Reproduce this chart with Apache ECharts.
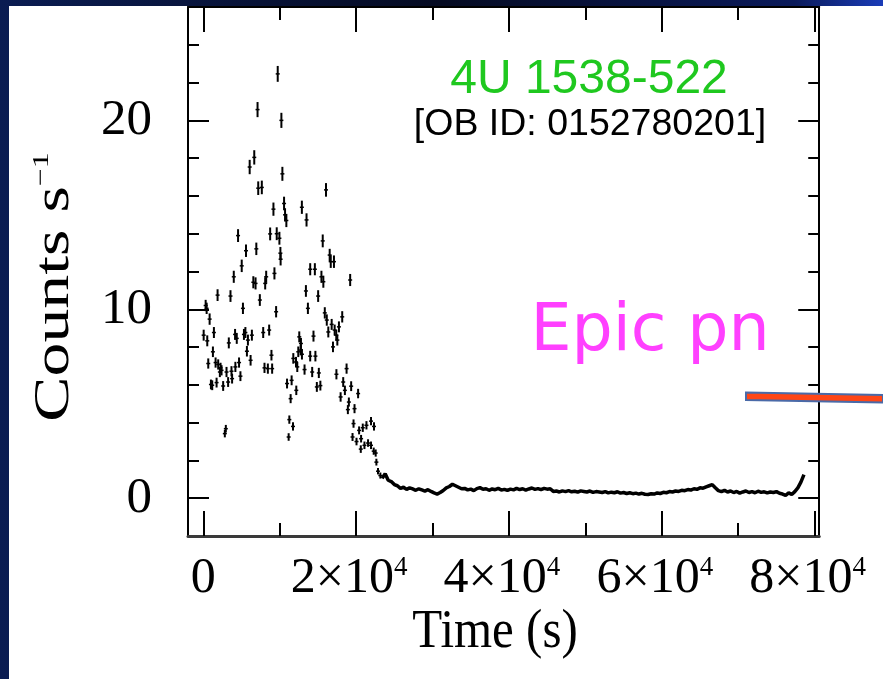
<!DOCTYPE html>
<html><head><meta charset="utf-8">
<script src="https://cdn.jsdelivr.net/npm/echarts@6/dist/echarts.min.js"></script>
<style>html,body{margin:0;padding:0;background:#07112e;}#c{width:883px;height:679px;}</style>
</head><body><div id="c"></div>
<script>
// ---- axis ticks / labels ----
const xMajorTicks = [0, 20000, 40000, 60000, 80000];
const xMinorTicks = [10000, 30000, 50000, 70000];
const xTickLabels = ['0', '2×10{s|4}', '4×10{s|4}', '6×10{s|4}', '8×10{s|4}'];
const yMajorTicks = [0, 10, 20];
const yMinorTicks = [2, 4, 6, 8, 12, 14, 16, 18, 22, 24];
const yTickLabels = ['0', '10', '20'];
const xRange = [-2000, 80600];
const yRange = [-2, 26];

// ---- flare part: [time (s), rate (counts/s), error] ----
const flarePoints = [
 [9740,22.46,0.42],[7100,20.57,0.40],[10220,20.0,0.40],[6670,18.04,0.38],[6070,17.53,0.38],
 [10350,17.17,0.37],[7190,16.41,0.36],[7660,16.45,0.36],[9180,15.3,0.35],[10570,15.6,0.36],
 [10700,15.0,0.35],[10870,14.7,0.35],[4550,13.9,0.34],[8750,13.99,0.34],[9610,14.0,0.34],
 [9960,13.76,0.34],[5590,13.1,0.33],[6940,13.2,0.33],[10090,12.97,0.33],[10120,12.65,0.33],
 [5030,12.3,0.33],[3990,11.72,0.32],[9310,11.9,0.32],[8230,11.72,0.32],[8100,11.37,0.32],
 [6550,11.43,0.32],[6840,11.37,0.32],[1870,10.75,0.31],[3560,10.7,0.31],[7400,10.49,0.31],
 [310,10.2,0.30],[440,10.05,0.30],[5190,10.05,0.30],[9530,9.87,0.30],[830,9.48,0.30],
 [1390,8.77,0.29],[50,8.63,0.29],[520,8.33,0.29],[3340,8.22,0.29],[4160,8.67,0.29],
 [4380,8.46,0.29],[5320,8.67,0.29],[5510,8.77,0.29],[5840,8.37,0.29],[5710,7.78,0.28],
 [6360,8.63,0.29],[7840,8.77,0.29],[8620,8.9,0.29],[1260,7.75,0.28],[6190,7.3,0.28],
 [8920,7.57,0.28],[650,7.13,0.27],[1610,7.18,0.27],[1950,7.08,0.27],[2260,6.9,0.27],
 [2170,6.68,0.27],[2390,6.77,0.27],[3040,6.68,0.27],[3690,6.72,0.27],[4200,6.95,0.27],
 [4680,7.18,0.27],[8010,6.9,0.27],[8450,6.86,0.27],[9010,6.86,0.27],[4860,6.46,0.26],
 [3770,6.33,0.26],[3250,6.15,0.26],[1000,6.02,0.26],[1170,5.98,0.26],[1740,6.12,0.26],
 [2600,5.94,0.26],[2820,3.42,0.20],[2950,3.68,0.20],[10960,6.07,0.26],[11560,6.24,0.26],
 [11430,5.27,0.24],[11260,4.16,0.22],[11740,3.8,0.22],[11170,3.24,0.20],[11780,7.4,0.28],
 [16060,16.32,0.36],[12900,15.4,0.35],[13510,14.73,0.35],[15630,13.62,0.34],[16540,12.87,0.33],
 [16680,12.52,0.33],[17100,12.52,0.33],[13990,12.12,0.32],[14600,12.12,0.32],[15460,11.72,0.32],
 [15710,11.46,0.32],[19220,11.55,0.32],[13430,10.97,0.31],[15030,10.7,0.31],[13690,10.05,0.30],
 [15900,9.81,0.30],[16160,9.43,0.30],[16360,8.8,0.29],[16800,9.2,0.29],[17190,8.9,0.29],
 [17400,8.63,0.29],[17750,9.07,0.29],[18180,9.6,0.30],[12560,8.54,0.29],[14420,8.58,0.29],
 [16970,8.01,0.28],[17540,8.37,0.29],[12780,8.19,0.29],[12430,7.75,0.28],[12740,7.84,0.28],
 [12910,7.62,0.28],[12130,7.21,0.27],[12300,6.95,0.27],[13990,7.52,0.28],[14670,7.52,0.28],
 [13250,6.81,0.27],[14250,6.68,0.27],[15120,6.63,0.27],[14860,5.89,0.26],[15320,5.96,0.26],
 [12170,5.71,0.25],[17420,6.56,0.27],[18750,6.86,0.27],[18310,6.15,0.26],[18530,5.71,0.25],
 [17970,5.36,0.25],[19350,5.93,0.26],[20260,5.54,0.25],[19050,5.09,0.24],[18920,4.69,0.24],
 [19790,4.74,0.24],[19660,3.95,0.22],[19530,3.24,0.21],[20390,3.59,0.21],[20870,3.73,0.22],
 [21350,3.86,0.22],[21950,4.08,0.22],[22340,3.8,0.22],[20050,3.0,0.20],[20650,3.15,0.20],
 [21090,2.8,0.20],[20610,2.6,0.20],[21560,2.92,0.20],[21950,2.8,0.20],[22300,2.49,0.19],
 [22560,2.39,0.19],[22650,1.91,0.18],[22860,1.43,0.17],[23170,1.2,0.16]
];

// ---- quiescent tail: [time (s), rate (counts/s)] ----
const tailPoints = [
 [23400,1.05],[23800,1.30],[24200,0.95],[24600,0.88],[25000,0.72],[25400,0.66],[25800,0.52],
 [26200,0.58],[26600,0.47],[27000,0.55],[27400,0.49],[27800,0.42],[28200,0.50],[28600,0.44],
 [29000,0.38],[29400,0.45],[29800,0.36],[30200,0.28],[30600,0.22],[31000,0.30],[31400,0.41],
 [31800,0.55],[32200,0.62],[32600,0.74],[33000,0.66],[33400,0.58],[33800,0.50],[34200,0.52],
 [34600,0.44],[35000,0.48],[35400,0.40],[35800,0.51],[36200,0.56],[36600,0.47],[37000,0.50],
 [37400,0.42],[37800,0.49],[38200,0.45],[38600,0.52],[39000,0.43],[39400,0.47],[39800,0.41],
 [40200,0.48],[40600,0.44],[41000,0.52],[41400,0.46],[41800,0.50],[42200,0.43],[42600,0.49],
 [43000,0.54],[43400,0.47],[43800,0.51],[44200,0.45],[44600,0.52],[45000,0.48],[45400,0.50],
 [45800,0.36],[46200,0.38],[46600,0.33],[47000,0.39],[47400,0.35],[47800,0.40],[48200,0.34],
 [48600,0.37],[49000,0.32],[49400,0.39],[49800,0.36],[50200,0.33],[50600,0.38],[51000,0.31],
 [51400,0.35],[51800,0.33],[52200,0.30],[52600,0.35],[53000,0.28],[53400,0.32],[53800,0.29],
 [54200,0.34],[54600,0.27],[55000,0.30],[55400,0.25],[55800,0.29],[56200,0.24],[56600,0.27],
 [57000,0.22],[57400,0.26],[57800,0.21],[58200,0.20],[58600,0.24],[59000,0.22],[59400,0.28],
 [59800,0.25],[60200,0.31],[60600,0.29],[61000,0.35],[61400,0.33],[61800,0.38],[62200,0.36],
 [62600,0.42],[63000,0.40],[63400,0.46],[63800,0.43],[64200,0.50],[64600,0.47],[65000,0.55],
 [65400,0.53],[65800,0.60],[66200,0.66],[66600,0.72],[67000,0.55],[67400,0.40],[67800,0.35],
 [68200,0.42],[68600,0.33],[69000,0.38],[69400,0.30],[69800,0.36],[70200,0.27],[70600,0.33],
 [71000,0.38],[71400,0.30],[71800,0.35],[72200,0.29],[72600,0.37],[73000,0.31],[73400,0.34],
 [73800,0.28],[74200,0.33],[74600,0.30],[75000,0.35],[75400,0.26],[75800,0.22],[76200,0.15],
 [76600,0.28],[77000,0.20],[77400,0.35],[77800,0.55],[78200,0.85],[78400,1.05],[78600,1.25]
];

const serif = '"Liberation Serif", "Times New Roman", serif';
const sans = '"Liberation Sans", Arial, sans-serif';

function xAxisDef(pos, major) {
  return {
    type: 'value', position: pos, min: xRange[0], max: xRange[1],
    axisLine: { show: major, onZero: false, lineStyle: pos === 'bottom' ? { color: '#3a3a3a', width: 3 } : { color: '#000', width: 2 } },
    axisTick: { show: true, inside: true, length: major ? 25 : 13, customValues: major ? xMajorTicks : xMinorTicks, lineStyle: { color: '#000', width: 2 } },
    axisLabel: (pos === 'bottom' && major) ? {
      show: true, customValues: xMajorTicks, margin: 18, color: '#000', fontFamily: serif, fontSize: 50, lineHeight: 50,
      formatter: v => xTickLabels[xMajorTicks.indexOf(v)] + (v === 0 ? '' : '{p|}'),
      rich: { s: { fontSize: 27, fontFamily: serif, color: '#000', verticalAlign: 'top', lineHeight: 50 }, p: { width: 14 } }
    } : { show: false },
    splitLine: { show: false }
  };
}
function yAxisDef(pos, major) {
  return {
    type: 'value', position: pos, min: yRange[0], max: yRange[1],
    axisLine: { show: major, onZero: false, lineStyle: { color: '#000', width: 2 } },
    axisTick: { show: true, inside: true, length: major ? 21 : 11, customValues: major ? yMajorTicks : yMinorTicks, lineStyle: { color: '#000', width: 2 } },
    axisLabel: (pos === 'left' && major) ? {
      show: true, customValues: yMajorTicks, margin: 36, color: '#000', fontFamily: serif, fontSize: 51,
      formatter: v => yTickLabels[yMajorTicks.indexOf(v)]
    } : { show: false },
    splitLine: { show: false }
  };
}

const chart = echarts.init(document.getElementById('c'), null, { renderer: 'canvas' });
chart.setOption({
  animation: false,
  backgroundColor: 'transparent',
  grid: { left: 188, top: 7, width: 636, height: 529, containLabel: false },
  xAxis: [xAxisDef('bottom', true), xAxisDef('top', true), xAxisDef('bottom', false), xAxisDef('top', false)],
  yAxis: [yAxisDef('left', true), yAxisDef('right', true), yAxisDef('left', false), yAxisDef('right', false)],
  graphic: [
    { type: 'rect', z: -20, silent: true, shape: { x: 0, y: 0, width: 883, height: 679 },
      style: { fill: new echarts.graphic.LinearGradient(0, 0, 1, 0, [
        { offset: 0, color: '#0a1c52' }, { offset: 0.5, color: '#050b22' }, { offset: 0.9, color: '#0a1a5a' }, { offset: 1, color: '#1a3cb8' }]) } },
    { type: 'rect', z: -19, silent: true, shape: { x: 9, y: 6, width: 874, height: 673 }, style: { fill: '#ffffff' } },
    { type: 'text', z: 10, x: 589, y: 80, style: { text: '4U 1538-522', font: '48px ' + sans, fill: '#1fc81f', textAlign: 'center', textVerticalAlign: 'middle' } },
    { type: 'text', z: 10, x: 590, y: 125, style: { text: '[OB ID: 0152780201]', font: '37.5px ' + sans, fill: '#000', textAlign: 'center', textVerticalAlign: 'middle' } },
    { type: 'text', z: 10, x: 650, y: 333, style: { text: 'Epic pn', font: '65px "Comic Sans MS", "DejaVu Sans", sans-serif', fill: '#ff40ff', textAlign: 'center', textVerticalAlign: 'middle' } },
    { type: 'text', z: 10, x: 495, y: 633, scaleY: 1.12, style: { text: 'Time (s)', font: '49px ' + serif, fill: '#000', textAlign: 'center', textVerticalAlign: 'middle' } },
    { type: 'text', z: 10, x: 55, y: 287, rotation: Math.PI / 2, scaleX: 1.33,
      style: { text: 'Counts s{sup|−1}', font: '51px ' + serif, fill: '#000', textAlign: 'center', textVerticalAlign: 'middle',
        rich: { sup: { fontSize: 24, fontFamily: serif, fill: '#000', verticalAlign: 'top', lineHeight: 50 } } } },
    { type: 'polygon', z: 10, shape: { points: [[746, 392.5], [883, 395], [883, 402.5], [746, 400]] },
      style: { fill: '#ff4616', stroke: '#4a6aa8', lineWidth: 2 } }
  ],
  series: [
    {
      type: 'custom', xAxisIndex: 0, yAxisIndex: 0, data: flarePoints, clip: true,
      renderItem: function (params, api) {
        const t = api.value(0), c = api.value(1), e = api.value(2);
        const top = api.coord([t, c + e]), bot = api.coord([t, c - e]), mid = api.coord([t, c]);
        return { type: 'group', children: [
          { type: 'line', shape: { x1: top[0], y1: top[1], x2: bot[0], y2: bot[1] }, style: { stroke: '#000', lineWidth: 2 } },
          { type: 'line', shape: { x1: mid[0] - 2, y1: mid[1], x2: mid[0] + 2, y2: mid[1] }, style: { stroke: '#000', lineWidth: 1.5 } }
        ] };
      }
    },
    {
      type: 'line', xAxisIndex: 0, yAxisIndex: 0, data: tailPoints, symbol: 'none',
      lineStyle: { color: '#000', width: 3.5 }
    }
  ]
});
</script>
</body></html>
